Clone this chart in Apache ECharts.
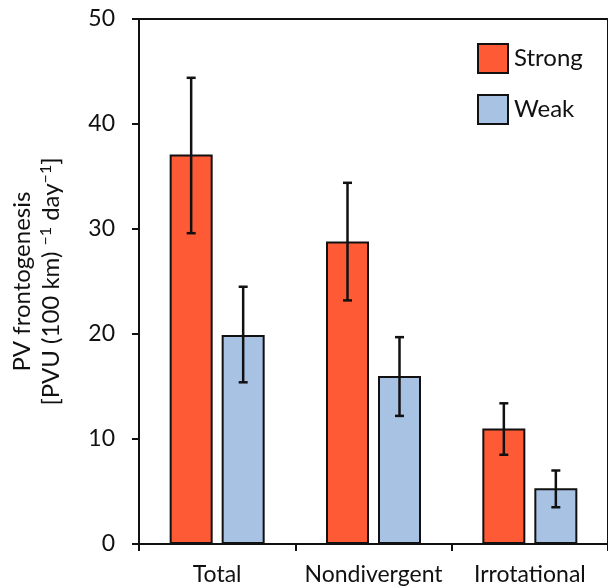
<!DOCTYPE html>
<html>
<head>
<meta charset="utf-8">
<style>html,body{margin:0;padding:0;background:#fff;}#c{width:608px;height:586px;}</style>
<script src="https://cdn.jsdelivr.net/npm/echarts@6/dist/echarts.min.js"></script>
</head>
<body>
<div id="c"></div>
<script>
const categories = ['Total', 'Nondivergent', 'Irrotational'];
const seriesNames = ['Strong', 'Weak'];
const strongValues = [37.1, 28.8, 11.0];
const weakValues = [19.9, 16.0, 5.3];
const strongLow = [29.6, 23.2, 8.5];
const strongHigh = [44.4, 34.4, 13.4];
const weakLow = [15.4, 12.2, 3.5];
const weakHigh = [24.5, 19.7, 7.0];
const yTicks = [0, 10, 20, 30, 40, 50];

const FONT = 'Lato, "Open Sans", sans-serif';
const BAR_W = 43, BAR_GAP = 9;

function errRender(sign) {
  return function (params, api) {
    const i = api.value(0);
    const lo = api.coord([i, api.value(1)]);
    const hi = api.coord([i, api.value(2)]);
    const x = lo[0] + sign * (BAR_W + BAR_GAP) / 2;
    const cap = 4.5;
    const style = { stroke: '#111', lineWidth: 2.5 };
    return {
      type: 'group',
      children: [
        { type: 'line', shape: { x1: x, y1: lo[1], x2: x, y2: hi[1] }, style },
        { type: 'line', shape: { x1: x - cap, y1: hi[1], x2: x + cap, y2: hi[1] }, style },
        { type: 'line', shape: { x1: x - cap, y1: lo[1], x2: x + cap, y2: lo[1] }, style }
      ]
    };
  };
}

const chart = echarts.init(document.getElementById('c'));
chart.setOption({
  animation: false,
  backgroundColor: '#fff',
  textStyle: { fontFamily: FONT },
  grid: { left: 137, top: 19, width: 474, height: 525, show: true, borderColor: '#111', borderWidth: 2, backgroundColor: 'transparent' },
  legend: {
    data: seriesNames,
    orient: 'vertical',
    left: 472, top: 38,
    icon: 'rect',
    itemWidth: 30, itemHeight: 29, itemGap: 20,
    textStyle: { fontSize: 24, color: '#111', fontFamily: FONT, padding: [0, 0, 0, 1] }
  },
  xAxis: {
    type: 'category',
    data: categories,
    axisLine: { lineStyle: { color: '#111', width: 2 } },
    axisTick: { show: true, length: 7, lineStyle: { color: '#111', width: 2 } },
    axisLabel: { fontSize: 23, color: '#111', margin: 19, fontFamily: FONT, interval: 0, hideOverlap: false }
  },
  yAxis: {
    type: 'value',
    min: 0, max: 50, interval: 10,
    name: '{a|PV frontogenesis}\n{a|[PVU (100 km) }{s|−1}{a| day}{s|−1}{a|]}',
    nameLocation: 'middle',
    nameGap: 73,
    nameTextStyle: {
      color: '#111', fontFamily: FONT, lineHeight: 29,
      rich: {
        a: { fontSize: 24, color: '#111', fontFamily: FONT, lineHeight: 29 },
        s: { fontSize: 16, color: '#111', fontFamily: FONT, lineHeight: 29, padding: [0, 0, 11, 0] }
      }
    },
    axisLine: { show: true, lineStyle: { color: '#111', width: 2 } },
    axisTick: { show: true, length: 7, lineStyle: { color: '#111', width: 2 } },
    axisLabel: { fontSize: 23, color: '#111', margin: 24, fontFamily: FONT },
    splitLine: { show: false }
  },
  series: [
    {
      name: 'Strong', type: 'bar', data: strongValues,
      barWidth: BAR_W, barGap: (BAR_GAP / BAR_W * 100) + '%',
      itemStyle: { color: '#FF5A36', borderColor: '#111', borderWidth: 2 }
    },
    {
      name: 'Weak', type: 'bar', data: weakValues,
      barWidth: BAR_W,
      itemStyle: { color: '#A7C2E3', borderColor: '#111', borderWidth: 2 }
    },
    {
      type: 'custom', renderItem: errRender(-1), z: 10,
      data: categories.map((c, i) => [i, strongLow[i], strongHigh[i]]),
      encode: { x: 0, y: [1, 2] }
    },
    {
      type: 'custom', renderItem: errRender(1), z: 10,
      data: categories.map((c, i) => [i, weakLow[i], weakHigh[i]]),
      encode: { x: 0, y: [1, 2] }
    }
  ]
});
</script>
</body>
</html>
